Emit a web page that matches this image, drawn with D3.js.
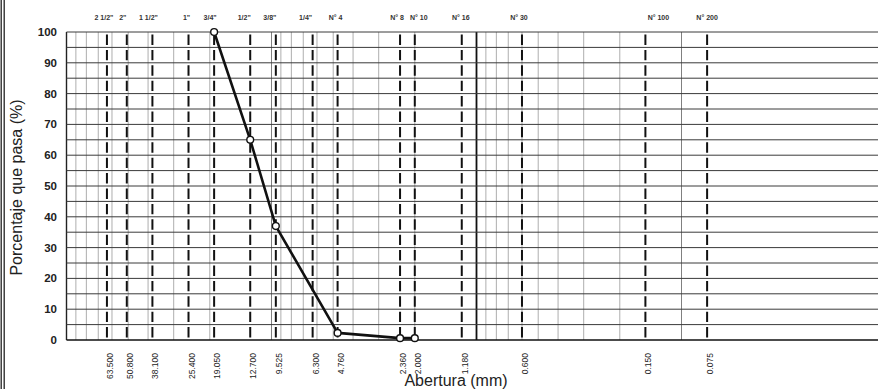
<!DOCTYPE html>
<html><head><meta charset="utf-8">
<script src="https://cdn.jsdelivr.net/npm/d3@7"></script>
<style>body{margin:0;background:#fff}svg{display:block}</style>
</head><body>
<svg id="c" width="878" height="389"></svg>
<script>
// ---- data ----
const sieveSizes = [63.5, 50.8, 38.1, 25.4, 19.05, 12.7, 9.525, 6.3, 4.76, 2.36, 2.0, 1.18, 0.6, 0.15, 0.075];
const sieveNames = ['2 1/2"', '2"', '1 1/2"', '1"', '3/4"', '1/2"', '3/8"', '1/4"', 'N° 4', 'N° 8', 'N° 10', 'N° 16', 'N° 30', 'N° 100', 'N° 200'];
const sieveLabels = ['63.500', '50.800', '38.100', '25.400', '19.050', '12.700', '9.525', '6.300', '4.760', '2.360', '2.000', '1.180', '0.600', '0.150', '0.075'];
const sampleSize = [19.05, 12.7, 9.525, 4.76, 2.36, 2.0];
const samplePass = [100, 65, 37, 2.3, 0.6, 0.6];
const yTicks = [0, 10, 20, 30, 40, 50, 60, 70, 80, 90, 100];
const yGrid = [0, 5, 10, 15, 20, 25, 30, 35, 40, 45, 50, 55, 60, 65, 70, 75, 80, 85, 90, 95, 100];
const xMinor = [90, 80, 70, 60, 50, 40, 30, 20, 9, 8, 7, 6, 5, 4, 3, 2, 0.9, 0.8, 0.7, 0.6, 0.5, 0.4, 0.3, 0.2];
const xMajor = [100, 10, 1, 0.1];
const yTitle = 'Porcentaje que pasa (%)';
const xTitle = 'Abertura (mm)';

// label nudges (layout only, px)
const nameNudge = {'2 1/2"': -3, '2"': -4, '1 1/2"': -4, '1"': -2, '3/4"': -4, '1/2"': -6, '3/8"': -6, '1/4"': -7,
  'N° 4': -2, 'N° 8': -3, 'N° 10': 4, 'N° 16': -1, 'N° 30': -3, 'N° 100': 13, 'N° 200': 0};

// ---- scales ----
const svg = d3.select('#c');
const font = 'Liberation Sans, Arial, sans-serif';
const x = d3.scaleLog().domain([100, 0.01]).range([66.5, 886.5]);
const y = d3.scaleLinear().domain([0, 100]).range([340, 32]);

// scan frame lines on the left
[1.2, 4.2].forEach(px => svg.append('line').attr('x1', px).attr('x2', px).attr('y1', 0).attr('y2', 389)
  .attr('stroke', '#222').attr('stroke-width', 1.3));

// minor vertical gridlines
svg.append('g').selectAll('line').data(xMinor).join('line')
  .attr('x1', d => x(d)).attr('x2', d => x(d)).attr('y1', y(100)).attr('y2', y(0))
  .attr('stroke', '#a5a5a5').attr('stroke-width', 0.9);
// major vertical gridlines
svg.append('g').selectAll('line').data(xMajor).join('line')
  .attr('x1', d => x(d)).attr('x2', d => x(d)).attr('y1', y(100)).attr('y2', y(0))
  .attr('stroke', d => d === 1 ? '#111' : (d === 100 ? '#222' : '#808080'))
  .attr('stroke-width', d => d === 1 ? 1.8 : (d === 100 ? 1.4 : 1));

// horizontal gridlines
svg.append('g').selectAll('line').data(yGrid).join('line')
  .attr('x1', x(100)).attr('x2', 878).attr('y1', d => y(d)).attr('y2', d => y(d))
  .attr('stroke', d => d === 0 ? '#111' : '#3a3a3a').attr('stroke-width', d => d === 0 ? 1.5 : 1);

// sieve dashed lines
const per = y(0) - y(5);
svg.append('g').selectAll('line').data(sieveSizes).join('line')
  .attr('x1', d => x(d)).attr('x2', d => x(d)).attr('y1', y(100)).attr('y2', y(0))
  .attr('stroke', '#111').attr('stroke-width', 2)
  .attr('stroke-dasharray', (per - 5) + ',5').attr('stroke-dashoffset', per - 2.5);

// y tick labels
svg.append('g').selectAll('text').data(yTicks).join('text')
  .attr('x', 57).attr('y', d => y(d) + 4).attr('text-anchor', 'end')
  .attr('font-family', font).attr('font-size', 11.5).attr('font-weight', 'bold').attr('fill', '#222')
  .text(d => d);

// top sieve names
svg.append('g').selectAll('text').data(sieveSizes).join('text')
  .attr('x', (d, i) => x(d) + nameNudge[sieveNames[i]]).attr('y', 19.5).attr('text-anchor', 'middle')
  .attr('font-family', font).attr('font-size', 7).attr('font-weight', 'bold').attr('fill', '#333')
  .text((d, i) => sieveNames[i]);

// bottom size labels (rotated)
svg.append('g').selectAll('text').data(sieveSizes).join('text')
  .attr('transform', d => `translate(${x(d) + 3},353) rotate(-90)`)
  .attr('text-anchor', 'end').attr('dominant-baseline', 'central')
  .attr('font-family', font).attr('font-size', 8.5).attr('fill', '#222')
  .text((d, i) => sieveLabels[i]);

// titles
svg.append('text').attr('transform', 'translate(22,187.5) rotate(-90)').attr('text-anchor', 'middle')
  .attr('font-family', font).attr('font-size', 16).attr('fill', '#222').text(yTitle);
svg.append('text').attr('x', 456).attr('y', 386).attr('text-anchor', 'middle')
  .attr('font-family', font).attr('font-size', 16).attr('fill', '#222').text(xTitle);

// curve
const pts = sampleSize.map((s, i) => [s, samplePass[i]]);
svg.append('path').datum(pts)
  .attr('d', d3.line().x(d => x(d[0])).y(d => y(d[1])))
  .attr('fill', 'none').attr('stroke', '#111').attr('stroke-width', 2.6).attr('stroke-linejoin', 'round');
svg.append('g').selectAll('circle').data(pts).join('circle')
  .attr('cx', d => x(d[0])).attr('cy', d => y(d[1])).attr('r', 3.4)
  .attr('fill', '#fff').attr('stroke', '#111').attr('stroke-width', 1.4);
</script>
</body></html>
